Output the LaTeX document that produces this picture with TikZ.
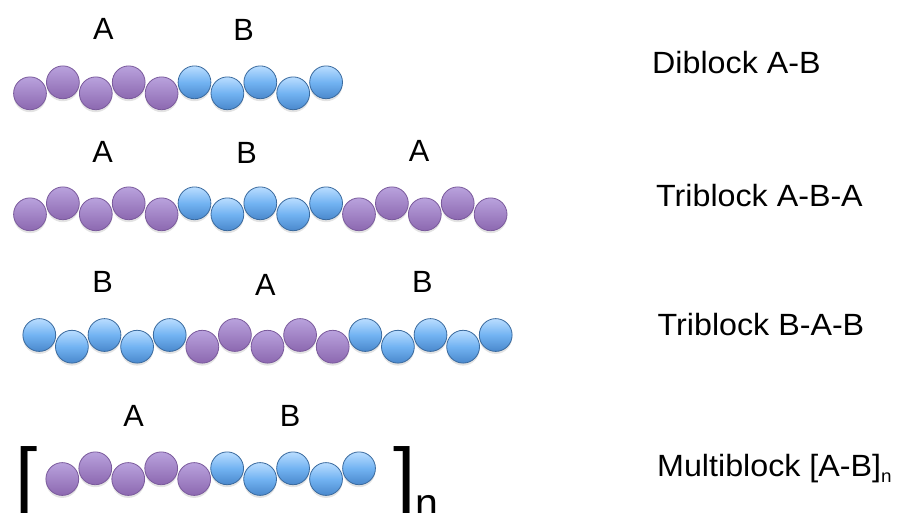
\documentclass[tikz,border=0pt]{standalone}
\usepackage{fontspec}
\setmainfont{Liberation Sans}
\usetikzlibrary{shadows}
\definecolor{pA}{HTML}{B9A2DD}
\definecolor{pB}{HTML}{8C68B0}
\definecolor{pline}{HTML}{7A5A9C}
\definecolor{bA}{HTML}{BADDFF}
\definecolor{bM}{HTML}{72B3F2}
\definecolor{bB}{HTML}{4A88CC}
\definecolor{bline}{HTML}{3A6A9E}
\begin{document}
\begin{tikzpicture}[x=1pt,y=-1pt,
  beadbase/.style={circle, minimum size=32.8pt, inner sep=0pt, line width=0.8pt,
    drop shadow={shadow xshift=0pt, shadow yshift=-2.5pt, opacity=0.22}},
  beadP/.style={beadbase, draw=pline, top color=pA, bottom color=pB},
  beadB/.style={beadbase, draw=bline, top color=bA, bottom color=bB, middle color=bM},
  lab/.style={anchor=base, inner sep=0pt, font=\fontsize{30.7}{36}\selectfont},
  desc/.style={anchor=base west, inner sep=0pt, xscale=1.05, font=\fontsize{30.7}{36}\selectfont},
  bracket/.style={anchor=base west, inner sep=0pt, font=\fontsize{80}{80}\selectfont}]
\useasboundingbox (0,0) rectangle (899,512);
\clip (0,0) rectangle (899,512);

% Row 1: Diblock
\foreach \t [count=\i from 0] in {P,P,P,P,P,B,B,B,B,B} {
  \pgfmathsetmacro\yy{mod(\i,2)==0 ? 93.3 : 82.3}
  \node[bead\t] (ra\i) at ({30+32.9*\i}, \yy) {};
}
\node[lab] (laA) at (103.3,39.3) {A};
\node[lab] (laB) at (243.7,40.5) {B};

% Row 2: Triblock A-B-A
\foreach \t [count=\i from 0] in {P,P,P,P,P,B,B,B,B,B,P,P,P,P,P} {
  \pgfmathsetmacro\yy{mod(\i,2)==0 ? 214.3 : 203.3}
  \node[bead\t] (rb\i) at ({30+32.9*\i}, \yy) {};
}
\node[lab] (lbA1) at (102.5,162.7) {A};
\node[lab] (lbB) at (246.7,163.3) {B};
\node[lab] (lbA2) at (419,161.7) {A};

% Row 3: Triblock B-A-B
\foreach \t [count=\i from 0] in {B,B,B,B,B,P,P,P,P,P,B,B,B,B,B} {
  \pgfmathsetmacro\yy{mod(\i,2)==0 ? 335 : 346.7}
  \node[bead\t] (rc\i) at ({39.3+32.6*\i}, \yy) {};
}
\node[lab] (lcB1) at (102.7,292.7) {B};
\node[lab] (lcA) at (265.3,295.3) {A};
\node[lab] (lcB2) at (422.3,292.7) {B};

% Row 4: Multiblock
\foreach \t [count=\i from 0] in {P,P,P,P,P,B,B,B,B,B} {
  \pgfmathsetmacro\yy{mod(\i,2)==0 ? 479 : 468.3}
  \node[bead\t] (rd\i) at ({62.3+32.97*\i}, \yy) {};
}
\node[lab] (ldA) at (133.7,426.7) {A};
\node[lab] (ldB) at (290,426.7) {B};
\node[bracket] (lbr) at (15,504) {[};
\node[bracket] (rbr) at (393,504) {]\raisebox{-13pt}{\fontsize{41}{41}\selectfont n}};

% Descriptions
\node[desc] (d1) at (652,73.5) {Diblock A-B};
\node[desc] (d2) at (656,206) {Triblock A-B-A};
\node[desc] (d3) at (657.5,335) {Triblock B-A-B};
\node[desc] (d4) at (657,476.5) {Multiblock [A-B]\raisebox{-6pt}{\fontsize{18}{18}\selectfont n}};
\end{tikzpicture}
\end{document}
